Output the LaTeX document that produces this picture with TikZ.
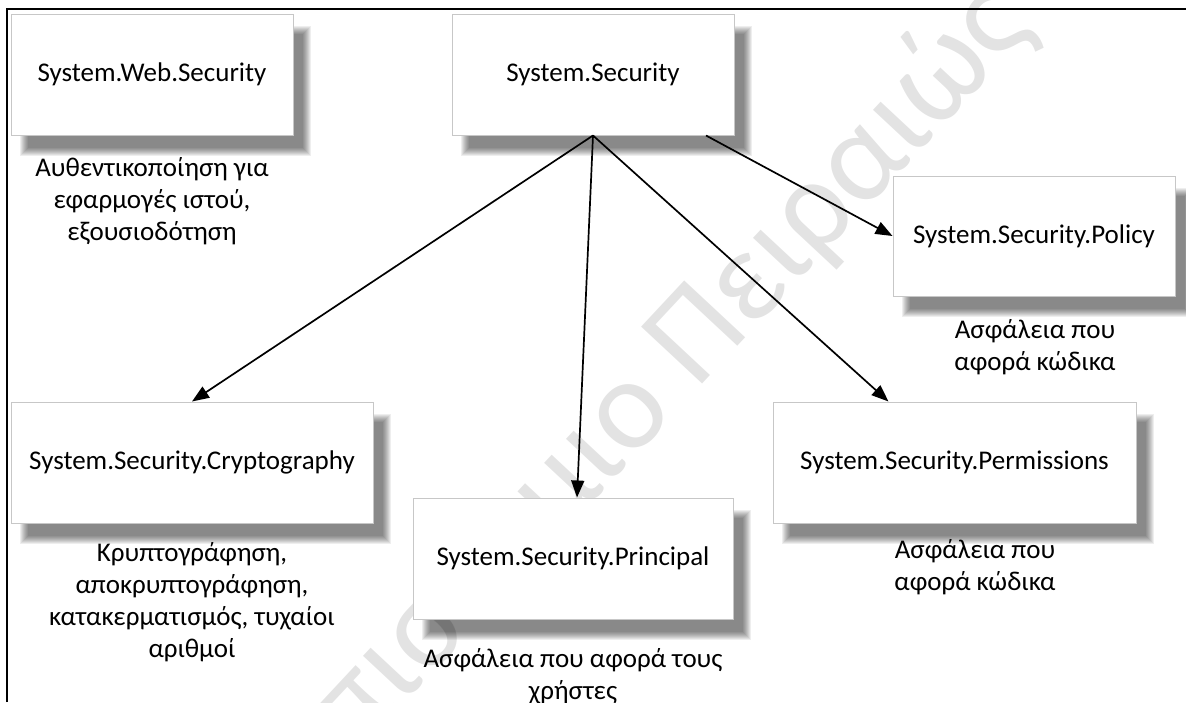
\documentclass[tikz,border=0pt]{standalone}
\usepackage{fontspec}
\setmainfont{Carlito}
\usetikzlibrary{arrows.meta,backgrounds}
\newcommand{\labelfont}{\fontsize{27}{32}\selectfont}
\newcommand{\markfont}{\fontsize{130}{130}\selectfont}
% soft drop shadow: stacked translucent rectangles offset to the lower right
\newcommand{\dropshadow}[1]{%
  \foreach \k in {-4,-3,-2,-1,0,1,2,3,4}{%
    \fill[black,opacity=0.068] ([shift={(13-\k,16-\k)}]#1.north west)
      rectangle ([shift={(13+\k,16+\k)}]#1.south east);
  }}
\tikzset{
  pkgbox/.style={draw=black!22, line width=1pt, fill=white, inner sep=0pt,
    font=\labelfont},
  note/.style={align=center, font=\labelfont, inner sep=0pt},
  link/.style={line width=1.7pt, -{Triangle[length=17pt,width=13pt]}},
}
\begin{document}
\begin{tikzpicture}[x=1pt,y=-1pt]
\useasboundingbox (0,0) rectangle (1186,702);

% frame lines
\coordinate (fl) at (7,702);
\coordinate (fc) at (7,9);
\coordinate (fr) at (1186,9);
\draw[line width=1.2pt] (fl) -- (fc) -- (fr);

% packages
\node[pkgbox, minimum width=282, minimum height=121] (web) at (152,74.5) {System.Web.Security};
\node[pkgbox, minimum width=282, minimum height=121] (sec) at (593,74.5) {System.Security};
\node[pkgbox, minimum width=282, minimum height=120] (pol) at (1034,236) {System.Security.Policy};
\node[pkgbox, minimum width=362, minimum height=121] (cry) at (192,462.5) {System.Security.Cryptography};
\node[pkgbox, minimum width=320, minimum height=121] (pri) at (573,558.5) {System.Security.Principal};
\node[pkgbox, minimum width=363, minimum height=121] (per) at (954.5,462.5) {System.Security.Permissions};

\begin{scope}[on background layer]
  % faint watermark behind everything
  \begin{scope}
    \clip (0,0) rectangle (1186,702);
    \node[rotate=47, anchor=base east, text=black!11, font=\markfont, inner sep=0pt]
      (mark) at (1035,28) {Πανεπιστήμιο Πειραιώς};
  \end{scope}
  \foreach \b in {web,sec,pol,cry,pri,per}{\dropshadow{\b}}
\end{scope}

% descriptions
\node[note, anchor=north] (webn) at (152,157) {Αυθεντικοποίηση για\\εφαρμογές ιστού,\\εξουσιοδότηση};
\node[note, anchor=north] (poln) at (1035,319) {Ασφάλεια που\\αφορά κώδικα};
\node[note, anchor=north] (cryn) at (192,542) {Κρυπτογράφηση,\\αποκρυπτογράφηση,\\κατακερματισμός, τυχαίοι\\αριθμοί};
\node[note, anchor=north] (prin) at (573,648) {Ασφάλεια που αφορά τους\\χρήστες};
\node[note, anchor=north] (pern) at (975,539) {Ασφάλεια που\\αφορά κώδικα};

% dependencies
\draw[link] (sec.south) -- (cry.north);
\draw[link] (sec.south) -- ([xshift=4]pri.north);
\draw[link] (sec.south) -- ([xshift=-66]per.north);
\draw[link] ([xshift=113]sec.south) -- (pol.west);
\end{tikzpicture}
\end{document}
